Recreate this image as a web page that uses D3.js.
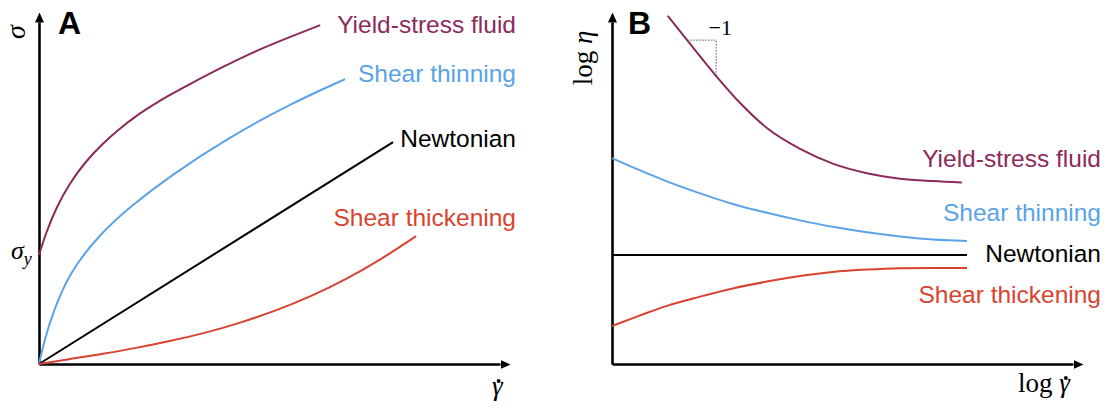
<!DOCTYPE html>
<html>
<head>
<meta charset="utf-8">
<script src="https://cdn.jsdelivr.net/npm/d3@7"></script>
<style>
  body { margin: 0; background: #fff; }
  .lbl { font-family: "Helvetica Neue", Helvetica, Arial, "Liberation Sans", sans-serif; font-size: 24.5px; }
  .math { font-family: "Times New Roman", "Liberation Serif", serif; }
  .panel { font-family: "Helvetica Neue", Helvetica, Arial, "Liberation Sans", sans-serif; font-weight: bold; font-size: 32px; }
</style>
</head>
<body>
<script>
// colours of the four fluid types
var colors = { yield: "#8b2a5b", thin: "#5aa3e8", newt: "#000000", thick: "#d8432f" };

// Panel A: stress vs shear rate (arbitrary units 0-10)
var yieldA = [[0, 3.19], [0.15, 3.83], [0.37, 4.56], [0.65, 5.26], [1.02, 5.94], [1.39, 6.46], [1.74, 6.87], [2.1, 7.25], [2.47, 7.57], [2.84, 7.87], [3.28, 8.19], [3.93, 8.65], [4.69, 9.15], [5.44, 9.56], [6.1, 9.91]];
var thinA = [[0, 0], [0.13, 0.76], [0.3, 1.49], [0.65, 2.66], [1.32, 3.8], [1.97, 4.59], [2.84, 5.5], [4.14, 6.64], [5.44, 7.6], [6.64, 8.33]];
var newtA = [[0, 0], [7.68, 6.49]];
var thickA = [[0, 0], [0.67, 0.15], [1.39, 0.29], [2.1, 0.47], [2.82, 0.66], [3.62, 0.91], [4.36, 1.2], [5.12, 1.55], [5.88, 1.96], [6.64, 2.46], [7.4, 3.04], [8.18, 3.74]];

// Panel B: log viscosity vs log shear rate
var yieldB = [[1.21, 10.18], [1.63, 9.47], [2.26, 8.42], [2.78, 7.63], [3.36, 6.9], [4.08, 6.29], [4.79, 5.86], [5.53, 5.58], [6.25, 5.42], [6.96, 5.35], [7.59, 5.31]];
var thinB = [[0, 6.02], [0.61, 5.66], [1.19, 5.34], [1.91, 4.99], [2.62, 4.68], [3.36, 4.42], [4.08, 4.2], [4.79, 4.01], [5.53, 3.85], [6.25, 3.73], [6.96, 3.64], [7.7, 3.6]];
var newtB = [[0, 3.19], [7.7, 3.19]];
var thickB = [[0, 1.11], [0.61, 1.42], [1.19, 1.7], [1.91, 1.97], [2.62, 2.21], [3.36, 2.41], [4.08, 2.57], [4.79, 2.69], [5.53, 2.76], [6.25, 2.8], [6.96, 2.81], [7.7, 2.81]];
var slopeB = [[1.63, 9.47], [2.26, 9.47], [2.26, 8.42]];

var names = ["Yield-stress fluid", "Shear thinning", "Newtonian", "Shear thickening"];

var svg = d3.select("body").append("svg")
    .attr("width", 1114)
    .attr("height", 410);

svg.append("defs").append("marker")
    .attr("id", "arrow")
    .attr("viewBox", "0 -5 10 10")
    .attr("refX", 0)
    .attr("refY", 0)
    .attr("markerUnits", "userSpaceOnUse")
    .attr("markerWidth", 10)
    .attr("markerHeight", 10)
    .attr("orient", "auto")
    .append("path")
    .attr("d", "M0,-4.5L10,0L0,4.5Z")
    .attr("fill", "#000");

function panel(x0, x1) {
    var x = d3.scaleLinear().domain([0, 10]).range([x0, x1]);
    var y = d3.scaleLinear().domain([0, 10]).range([364, 22]);
    return { x: x, y: y };
}

function drawAxes(p) {
    var gx = svg.append("g")
        .attr("transform", "translate(0," + p.y(0) + ")")
        .call(d3.axisBottom(p.x).tickValues([]).tickSizeOuter(0));
    var gy = svg.append("g")
        .attr("transform", "translate(" + p.x(0) + ",0)")
        .call(d3.axisLeft(p.y).tickValues([]).tickSizeOuter(0));
    [gx, gy].forEach(function (g) {
        g.select(".domain")
            .attr("stroke", "#000")
            .attr("stroke-width", 2.6)
            .attr("marker-end", "url(#arrow)");
    });
}

function drawCurve(p, data, color, curve) {
    var line = d3.line()
        .x(function (d) { return p.x(d[0]); })
        .y(function (d) { return p.y(d[1]); })
        .curve(curve);
    svg.append("path")
        .datum(data)
        .attr("d", line)
        .attr("fill", "none")
        .attr("stroke", color)
        .attr("stroke-width", 2);
}

function drawLabels(xr, ys) {
    var keys = ["yield", "thin", "newt", "thick"];
    ys.forEach(function (yy, i) {
        svg.append("text")
            .attr("class", "lbl")
            .attr("x", xr)
            .attr("y", yy)
            .attr("text-anchor", "end")
            .attr("fill", colors[keys[i]])
            .text(names[i]);
    });
}

// gamma with an overdot; the dot is a small circle above the glyph
function gammaDot(textSel, charIndex, baseline) {
    var r = textSel.node().getExtentOfChar(charIndex);
    svg.append("circle")
        .attr("cx", r.x + r.width * 0.62)
        .attr("cy", baseline - 14)
        .attr("r", 1.9)
        .attr("fill", "#000");
}

// ---- panel A
var pA = panel(39, 500);
drawAxes(pA);
drawCurve(pA, yieldA, colors.yield, d3.curveBasis);
drawCurve(pA, thinA, colors.thin, d3.curveBasis);
drawCurve(pA, newtA, colors.newt, d3.curveLinear);
drawCurve(pA, thickA, colors.thick, d3.curveBasis);
drawLabels(516, [33, 82, 147, 226]);

svg.append("text").attr("class", "panel").attr("x", 58).attr("y", 34).text("A");

svg.append("text")
    .attr("class", "math")
    .attr("transform", "translate(25,32) rotate(-90)")
    .attr("text-anchor", "middle")
    .attr("font-style", "italic")
    .attr("font-size", 28)
    .text("σ");

var sy = svg.append("text")
    .attr("class", "math")
    .attr("x", 11)
    .attr("y", 259)
    .attr("font-style", "italic")
    .attr("font-size", 26);
sy.append("tspan").text("σ");
sy.append("tspan").attr("font-size", 18).attr("dy", 6).text("y");

var gA = svg.append("text")
    .attr("class", "math")
    .attr("x", 492)
    .attr("y", 395)
    .attr("font-style", "italic")
    .attr("font-size", 27)
    .text("γ");
gammaDot(gA, 0, 395);

// ---- panel B
var pB = panel(612, 1073);
drawAxes(pB);
drawCurve(pB, yieldB, colors.yield, d3.curveMonotoneX);
drawCurve(pB, thinB, colors.thin, d3.curveMonotoneX);
drawCurve(pB, newtB, colors.newt, d3.curveLinear);
drawCurve(pB, thickB, colors.thick, d3.curveMonotoneX);
drawLabels(1101, [167, 221, 262, 303]);

svg.append("path")
    .datum(slopeB)
    .attr("d", d3.line().x(function (d) { return pB.x(d[0]); }).y(function (d) { return pB.y(d[1]); }))
    .attr("fill", "none")
    .attr("stroke", "#555")
    .attr("stroke-width", 1)
    .attr("stroke-dasharray", "1.5,1.5");

svg.append("text")
    .attr("class", "math")
    .attr("x", pB.x(2.26) + 4)
    .attr("y", 35)
    .attr("text-anchor", "middle")
    .attr("font-size", 22)
    .text("−1");

svg.append("text").attr("class", "panel").attr("x", 628).attr("y", 34).text("B");

var ly = svg.append("text")
    .attr("class", "math")
    .attr("transform", "translate(592,58) rotate(-90)")
    .attr("text-anchor", "middle")
    .attr("font-size", 27);
ly.append("tspan").text("log ");
ly.append("tspan").attr("font-style", "italic").text("η");

var lx = svg.append("text")
    .attr("class", "math")
    .attr("x", 1018)
    .attr("y", 392)
    .attr("font-size", 27);
lx.append("tspan").text("log ");
lx.append("tspan").attr("font-style", "italic").text("γ");
gammaDot(lx, 4, 392);
</script>
</body>
</html>
